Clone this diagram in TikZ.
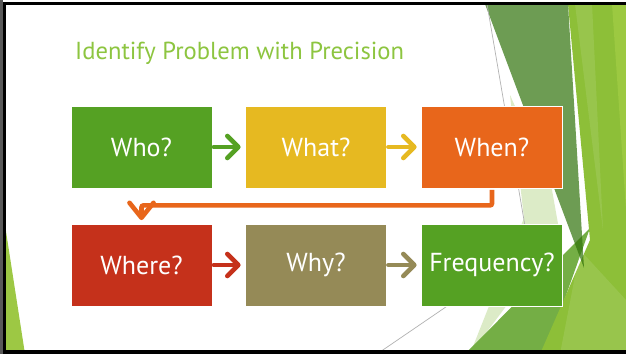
\documentclass[tikz,border=0pt]{standalone}
\usepackage{fontspec}
\setmainfont{PT Sans}
\usetikzlibrary{arrows.meta}

\definecolor{boxgreen}{HTML}{55A123}
\definecolor{boxyellow}{HTML}{E6B921}
\definecolor{boxorange}{HTML}{E8661B}
\definecolor{boxred}{HTML}{C5311B}
\definecolor{boxkhaki}{HTML}{958A57}
\definecolor{titlegreen}{HTML}{8DC540}
\definecolor{facetpale}{HTML}{DCEBC7}
\definecolor{facetmid}{HTML}{74AE45}
\definecolor{facetbright}{HTML}{8DBF38}
\definecolor{facetlight}{HTML}{9CC941}
\definecolor{facetdark}{HTML}{30720A}
\definecolor{facetleft}{HTML}{9DC844}

\tikzset{
  stepbox/.style={rectangle, draw=white, line width=0.8pt, minimum width=141pt,
    minimum height=82pt, inner sep=0pt, text=white, font=\fontsize{26}{28}\selectfont},
  flowarrow/.style={line width=4.6pt, line cap=round,
    -{Straight Barb[length=11pt,width=22pt,round]},
    shorten <=1.5pt, shorten >=4.5pt},
  facetline/.style={draw=black!30, line width=0.7pt}
}

\begin{document}
\begin{tikzpicture}[x=1pt,y=-1pt]
\useasboundingbox (0,0) rectangle (626,354);
\fill[white] (0,0) rectangle (626,354);

% decorative facets on the slide background
\begin{scope}
\clip (6,5) rectangle (626,350);
\fill[facetpale] (510,95) -- (552,190) -- (560,235) -- (470,354) -- (524,218) -- cycle;
\fill[facetmid] (465,354) -- (545,354) -- (590,228) -- cycle;
\fill[facetbright] (568,4) -- (626,4) -- (626,354) -- (540,354) -- (590,240) -- cycle;
\fill[facetlight] (612,4) -- (626,4) -- (626,210) -- cycle;
\fill[white, opacity=0.10] (575,4) -- (592,4) -- (603,230) -- cycle;
\fill[white, opacity=0.10] (580,250) -- (626,300) -- (626,354) -- (560,354) -- cycle;
\fill[facetdark, opacity=0.7] (485,4) -- (568,4) -- (584,268) -- cycle;
\fill[facetleft] (5,225) -- (25,354) -- (5,354) -- cycle;
\draw[facetline] (487,4) -- (526,232);
\draw[facetline] (500,270) -- (377,354);
\end{scope}

% slide frame
\fill[black!65] (0,0) rectangle (2.5,354);
\fill[black] (2.5,2) rectangle (626,5);
\fill[black] (2.5,2) rectangle (6,354);
\fill[black] (2.5,350) rectangle (626,354);

% title
\node[anchor=base west, text=titlegreen, font=\fontsize{24.6}{26}\selectfont, inner sep=0pt]
  (title) at (75,59) {Identify Problem with Precision};

% process steps
\node[stepbox, fill=boxgreen]  (who)   at (141.5,147) {Who?};
\node[stepbox, fill=boxyellow] (what)  at (316,147)   {What?};
\node[stepbox, fill=boxorange] (when)  at (492,147)   {When?};
\node[stepbox, fill=boxred]    (where) at (141.5,265) {Where?};
\node[stepbox, fill=boxkhaki]  (why)   at (316,265)   {Why?};
\node[stepbox, fill=boxgreen]  (freq)  at (492,265)   {Frequency?};

% connectors
\draw[flowarrow, boxgreen]  (who)  -- (what);
\draw[flowarrow, boxyellow] (what) -- (when);
\draw[flowarrow, boxred]    (where) -- (why);
\draw[flowarrow, boxkhaki]  (why)  -- (freq);
\draw[boxorange, line width=4.6pt, rounded corners=2pt,
      -{Straight Barb[length=15pt,width=24pt,round]}, shorten <=1.5pt, shorten >=3.5pt]
  (when.south) -- ++(0,17) -| (where.north);
\end{tikzpicture}
\end{document}
